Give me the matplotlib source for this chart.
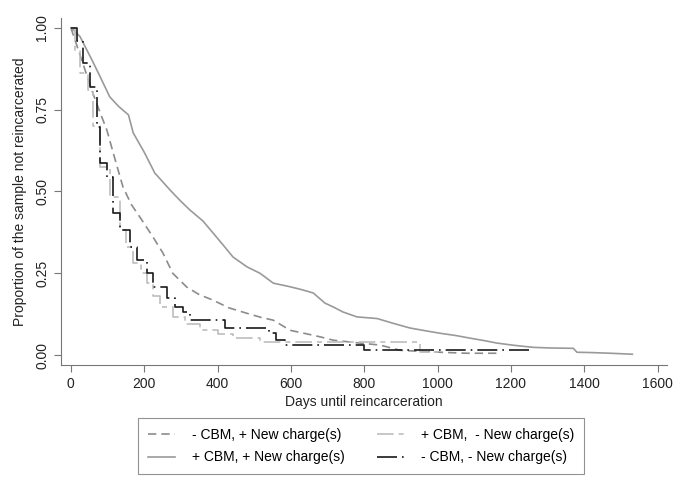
import matplotlib.pyplot as plt

# Kaplan-Meier style survival curves
t_pos_new = [0, 10, 25, 40, 60, 80, 106, 130, 157, 170, 200, 229, 250, 270, 300, 325, 360, 388,
             420, 442, 480, 516, 552, 598, 630, 661, 693, 716, 742, 780, 835, 880, 925, 970, 1007,
             1050, 1089, 1130, 1162, 1210, 1261, 1310, 1370, 1380, 1420, 1471, 1531]
s_pos_new = [1.0, 0.99, 0.973, 0.94, 0.896, 0.85, 0.789, 0.76, 0.734, 0.679, 0.62, 0.556, 0.53,
             0.505, 0.47, 0.443, 0.41, 0.373, 0.33, 0.30, 0.27, 0.25, 0.22, 0.209, 0.20, 0.19,
             0.159, 0.147, 0.132, 0.117, 0.112, 0.097, 0.083, 0.074, 0.067, 0.06, 0.052, 0.044,
             0.037, 0.03, 0.024, 0.022, 0.021, 0.009, 0.008, 0.006, 0.003]

t_neg_new = [0, 15, 30, 45, 60, 80, 98, 120, 142, 165, 188, 224, 251, 278, 316, 350, 388, 430,
             480, 520, 552, 598, 640, 680, 715, 780, 843, 898, 950, 1007, 1080, 1170]
s_neg_new = [1.0, 0.95, 0.9, 0.85, 0.80, 0.74, 0.688, 0.6, 0.514, 0.46, 0.422, 0.361, 0.312,
             0.25, 0.208, 0.185, 0.168, 0.145, 0.128, 0.115, 0.107, 0.076, 0.066, 0.056, 0.046,
             0.038, 0.031, 0.015, 0.012, 0.009, 0.006, 0.006]

t_pos_nonew = [0, 10, 25, 48, 60, 79, 106, 134, 150, 169, 190, 207, 225, 243, 278, 310, 352,
               400, 442, 516, 952, 1000]
s_pos_nonew = [1.0, 0.93, 0.862, 0.81, 0.70, 0.575, 0.484, 0.382, 0.33, 0.281, 0.25, 0.22, 0.18,
               0.147, 0.116, 0.095, 0.076, 0.065, 0.052, 0.04, 0.009, 0.009]

t_neg_nonew = [0, 16, 33, 52, 71, 79, 98, 115, 134, 161, 180, 207, 224, 262, 284, 306, 325, 420,
               540, 560, 585, 800, 1255]
s_neg_nonew = [1.0, 0.96, 0.893, 0.82, 0.697, 0.587, 0.544, 0.434, 0.382, 0.33, 0.29, 0.25, 0.208,
               0.174, 0.147, 0.131, 0.107, 0.083, 0.067, 0.046, 0.031, 0.015, 0.015]

labels = ["- CBM, + New charge(s)", "+ CBM, + New charge(s)",
          "+ CBM,  - New charge(s)", "- CBM, - New charge(s)"]

plt.rcParams["font.family"] = ["Liberation Sans", "DejaVu Sans"]

fig = plt.figure(figsize=(6.85, 4.98), dpi=100)
ax = fig.add_axes([0.089, 0.267, 0.885, 0.697])

# the two large groups have many small steps, so they read as smooth lines
l1, = ax.plot(t_neg_new, s_neg_new, color="#8c8c8c", lw=1.2, ls=(0, (5, 3)))
l2, = ax.plot(t_pos_new, s_pos_new, color="#9a9a9a", lw=1.2)
l3, = ax.step(t_pos_nonew, s_pos_nonew, where="post", color="#bdbdbd", lw=1.2,
              ls=(0, (10, 3, 3, 3)))
l4, = ax.step(t_neg_nonew, s_neg_nonew, where="post", color="#1a1a1a", lw=1.2,
              ls=(0, (12, 3, 1, 3)))

ax.set_xlim(-27, 1626)
ax.set_ylim(-0.03, 1.03)
ax.set_xticks(range(0, 1601, 200))
ax.set_yticks([0, 0.25, 0.5, 0.75, 1.0])
ax.set_yticklabels(["0.00", "0.25", "0.50", "0.75", "1.00"], rotation=90, va="center")

for side in ["top", "right"]:
    ax.spines[side].set_visible(False)
for side in ["left", "bottom"]:
    ax.spines[side].set_color("#777777")
ax.tick_params(colors="#777777", labelcolor="#222222", labelsize=10, length=5)

ax.set_xlabel("Days until reincarceration", fontsize=10, color="#222222", labelpad=3)
ax.set_ylabel("Proportion of the sample not reincarcerated", fontsize=10, color="#222222",
              labelpad=6)

leg = fig.legend([l1, l2, l3, l4], labels, ncol=2, loc="center",
                 bbox_to_anchor=(0.527, 0.104), fontsize=10, fancybox=False,
                 edgecolor="#777777", handlelength=2.0, handletextpad=1.2,
                 columnspacing=2.3, borderpad=0.7, labelspacing=0.6)
leg.get_frame().set_linewidth(0.8)

fig.savefig("out.png", dpi=100)
